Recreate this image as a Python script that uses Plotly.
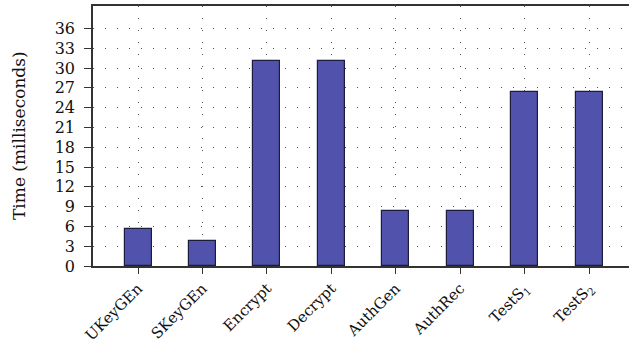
import plotly.graph_objects as go

# Execution time of each scheme operation
operations = ["UKeyGEn", "SKeyGEn", "Encrypt", "Decrypt", "AuthGen", "AuthRec",
              "TestS<sub>1</sub>", "TestS<sub>2</sub>"]
times_ms = [5.65, 3.8, 31.1, 31.1, 8.4, 8.4, 26.3, 26.3]
y_ticks = list(range(0, 37, 3))

FONT = "DejaVu Serif"
L, R, T, B = 93, 0, 6, 79
W, H = 629, 345

fig = go.Figure(
    go.Bar(
        x=list(range(len(operations))),
        y=times_ms,
        width=0.42,
        marker=dict(color="#5152ab", line=dict(color="#1c1c3c", width=1.2)),
    )
)

fig.update_layout(
    width=W,
    height=H,
    autosize=False,
    margin=dict(l=L, r=R, t=T, b=B, pad=0),
    plot_bgcolor="white",
    paper_bgcolor="white",
    showlegend=False,
    font=dict(family=FONT, size=16, color="#111111"),
    bargap=0,
    annotations=[
        dict(
            text="Time (milliseconds)",
            xref="paper", yref="paper",
            x=(19 - L) / (W - L - R), y=0.5,
            xanchor="center", yanchor="middle",
            textangle=-90, showarrow=False,
            font=dict(family=FONT, size=17, color="#111111"),
        )
    ],
)

fig.update_xaxes(
    range=[-0.70, 7.62],
    tickmode="array",
    tickvals=list(range(len(operations))),
    ticktext=operations,
    tickangle=-45,
    ticks="outside",
    ticklen=6,
    tickcolor="#333333",
    showline=True,
    linecolor="#333333",
    linewidth=1.5,
    mirror=True,
    showgrid=True,
    gridcolor="#555555",
    gridwidth=1,
    griddash="1px,11px",
    tickfont=dict(family=FONT, size=15),
    zeroline=False,
    automargin=False,
)

fig.update_yaxes(
    range=[0, 39.4],
    tickmode="array",
    tickvals=y_ticks,
    ticks="outside",
    ticklen=7,
    tickcolor="#333333",
    showline=True,
    linecolor="#333333",
    linewidth=1.5,
    showgrid=True,
    gridcolor="#555555",
    gridwidth=1,
    griddash="1px,11px",
    zeroline=False,
    tickfont=dict(family=FONT, size=16),
    ticklabelstandoff=6,
    automargin=False,
)

fig.write_html("out.html")
